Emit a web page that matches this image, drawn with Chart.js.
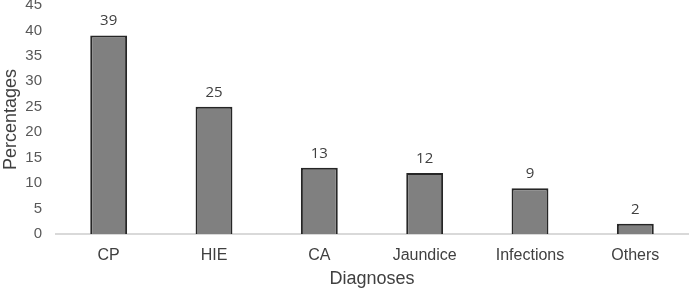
<!DOCTYPE html>
<html>
<head>
<meta charset="utf-8">
<script src="https://cdn.jsdelivr.net/npm/chart.js@4.4.1/dist/chart.umd.min.js"></script>
<style>
  html, body { margin: 0; padding: 0; background: #fff; }
  #wrap { width: 690px; height: 290px; position: relative; }
</style>
</head>
<body>
<div id="wrap"><canvas id="diagChart"></canvas></div>
<script>
const categories = ['CP', 'HIE', 'CA', 'Jaundice', 'Infections', 'Others'];
const percentages = [39, 25, 13, 12, 9, 2];
const yTicks = [0, 5, 10, 15, 20, 25, 30, 35, 40, 45];

// value labels above each bar
const barLabels = {
    id: 'barLabels',
    afterDatasetsDraw(chart) {
        const ctx = chart.ctx;
        const meta = chart.getDatasetMeta(0);
        ctx.save();
        ctx.font = '15px "Open Sans", sans-serif';
        ctx.fillStyle = '#404040';
        ctx.textAlign = 'center';
        ctx.textBaseline = 'bottom';
        meta.data.forEach((bar, i) => {
            ctx.fillText(percentages[i], bar.x, bar.y - 7);
        });
        ctx.restore();
    }
};

const ctx = document.getElementById('diagChart').getContext('2d');
new Chart(ctx, {
    type: 'bar',
    data: {
        labels: categories,
        datasets: [{
            data: percentages,
            backgroundColor: '#808080',
            borderColor: '#262626',
            borderWidth: 2,
            borderSkipped: 'bottom',
            categoryPercentage: 1,
            barPercentage: 0.35
        }]
    },
    options: {
        responsive: true,
        maintainAspectRatio: false,
        animation: false,
        layout: { padding: { top: 5, right: 2, left: 0, bottom: 0 } },
        plugins: {
            legend: { display: false },
            tooltip: { enabled: false }
        },
        scales: {
            x: {
                grid: { display: false, drawTicks: false },
                border: { color: '#d9d9d9', width: 2 },
                ticks: {
                    color: '#404040',
                    font: { family: '"Liberation Sans", Arial, sans-serif', size: 16 },
                    padding: 12
                },
                title: {
                    display: true,
                    text: 'Diagnoses',
                    color: '#404040',
                    font: { family: '"Liberation Sans", Arial, sans-serif', size: 18 },
                    padding: { top: 2, bottom: 0 }
                },
                afterFit(scale) { scale.height = 56; }
            },
            y: {
                min: 0,
                max: 45,
                afterBuildTicks(scale) { scale.ticks = yTicks.map(v => ({ value: v })); },
                grid: { display: false, drawTicks: false },
                border: { display: false },
                ticks: {
                    color: '#595959',
                    font: { family: '"Liberation Sans", Arial, sans-serif', size: 15 },
                    padding: 14
                },
                title: {
                    display: true,
                    text: 'Percentages',
                    color: '#404040',
                    font: { family: '"Liberation Sans", Arial, sans-serif', size: 18 },
                    padding: { top: 0, bottom: 0 }
                },
                afterFit(scale) {
                    scale.width = 56;
                    scale.paddingTop = 0;
                    scale.paddingBottom = 0;
                }
            }
        }
    },
    plugins: [barLabels]
});
</script>
</body>
</html>
